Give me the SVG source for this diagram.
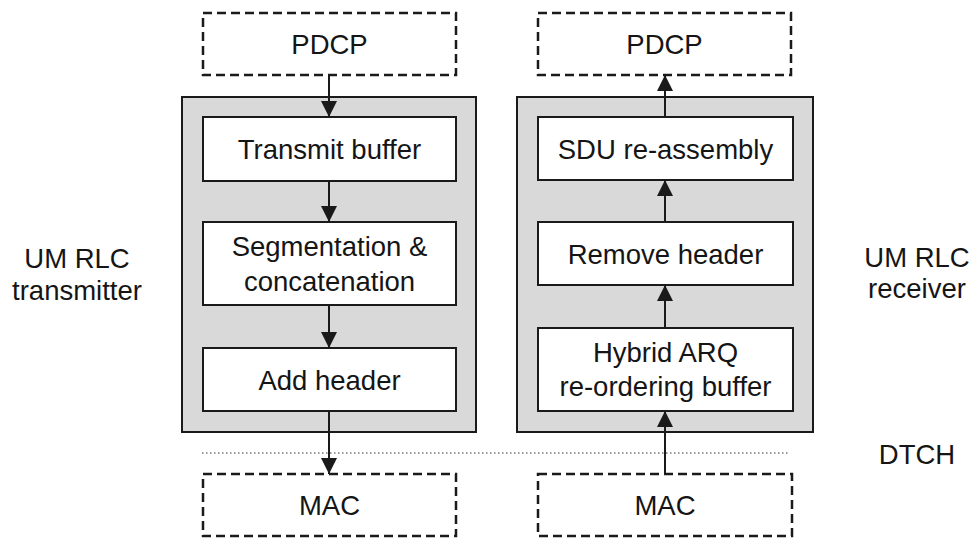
<svg xmlns="http://www.w3.org/2000/svg" width="973" height="540" viewBox="0 0 973 540">
  <defs>
    <style>
      text { font-family: "Liberation Sans", Arial, sans-serif; font-size: 27.5px; fill: #151515; text-anchor: middle; }
      .ext { fill: #ffffff; stroke: #1a1a1a; stroke-width: 2.5; stroke-dasharray: 9 5; }
      .panel { fill: #d9d9d9; stroke: #1a1a1a; stroke-width: 2; }
      .block { fill: #ffffff; stroke: #1a1a1a; stroke-width: 2; }
      .flow { stroke: #1a1a1a; stroke-width: 2; fill: none; marker-end: url(#head); }
      .chan { stroke: #777777; stroke-width: 1.5; stroke-dasharray: 1.5 2.5; fill: none; }
    </style>
    <marker id="head" viewBox="0 0 16 16" refX="16" refY="8" markerWidth="16" markerHeight="16" markerUnits="userSpaceOnUse" orient="auto">
      <path d="M0,0 L16,8 L0,16 Z" fill="#1a1a1a"/>
    </marker>
  </defs>

  <rect width="973" height="540" fill="#ffffff"/>

  <!-- side labels -->
  <g id="label-tx">
    <text x="77" y="268">UM RLC</text>
    <text x="77" y="300">transmitter</text>
  </g>
  <g id="label-rx">
    <text x="917" y="267">UM RLC</text>
    <text x="917" y="298">receiver</text>
  </g>
  <g id="label-dtch">
    <text x="917" y="464">DTCH</text>
  </g>

  <!-- transmitter side -->
  <g id="tx-pdcp">
    <rect class="ext" x="203" y="13" width="253" height="62"/>
    <text x="329.5" y="54">PDCP</text>
  </g>
  <g id="tx-panel">
    <rect class="panel" x="182" y="97" width="294" height="335"/>
  </g>
  <g id="tx-buffer">
    <rect class="block" x="203" y="117" width="253" height="64"/>
    <text x="329.5" y="159">Transmit buffer</text>
  </g>
  <g id="tx-segmentation">
    <rect class="block" x="203" y="222" width="253" height="83"/>
    <text x="329.5" y="256">Segmentation &amp;</text>
    <text x="329.5" y="291">concatenation</text>
  </g>
  <g id="tx-header">
    <rect class="block" x="203" y="348" width="253" height="63"/>
    <text x="329.5" y="390">Add header</text>
  </g>
  <g id="tx-mac">
    <rect class="ext" x="203" y="474" width="253" height="62"/>
    <text x="329.5" y="515">MAC</text>
  </g>

  <!-- receiver side -->
  <g id="rx-pdcp">
    <rect class="ext" x="538" y="13" width="253" height="62"/>
    <text x="664.5" y="54">PDCP</text>
  </g>
  <g id="rx-panel">
    <rect class="panel" x="517" y="97" width="296" height="335"/>
  </g>
  <g id="rx-reassembly">
    <rect class="block" x="538" y="117" width="255" height="63"/>
    <text x="665.5" y="159">SDU re-assembly</text>
  </g>
  <g id="rx-header">
    <rect class="block" x="538" y="222" width="255" height="63"/>
    <text x="665.5" y="264">Remove header</text>
  </g>
  <g id="rx-harq">
    <rect class="block" x="538" y="328" width="255" height="83"/>
    <text x="665.5" y="362">Hybrid ARQ</text>
    <text x="665.5" y="396">re-ordering buffer</text>
  </g>
  <g id="rx-mac">
    <rect class="ext" x="538" y="474" width="254" height="62"/>
    <text x="665" y="515">MAC</text>
  </g>

  <!-- connectors -->
  <g id="connectors">
    <line class="chan" x1="202" y1="453" x2="790" y2="453"/>
    <line class="flow" x1="329" y1="75" x2="329" y2="117"/>
    <line class="flow" x1="329" y1="181" x2="329" y2="222"/>
    <line class="flow" x1="329" y1="305" x2="329" y2="348"/>
    <line class="flow" x1="329" y1="411" x2="329" y2="474"/>
    <line class="flow" x1="665" y1="474" x2="665" y2="411"/>
    <line class="flow" x1="665" y1="328" x2="665" y2="285"/>
    <line class="flow" x1="665" y1="222" x2="665" y2="180"/>
    <line class="flow" x1="665" y1="117" x2="665" y2="75"/>
  </g>
</svg>
